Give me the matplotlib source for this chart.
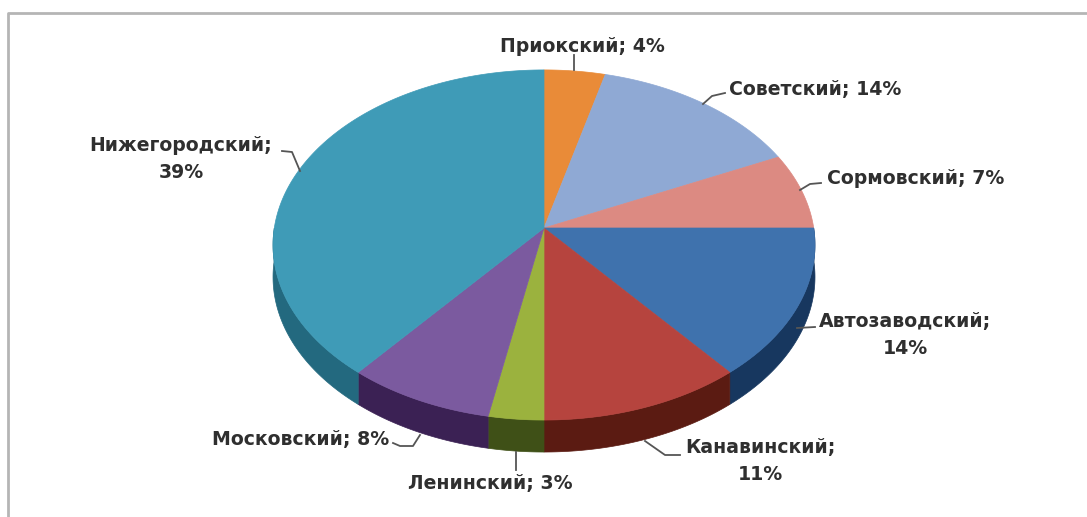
import numpy as np
import matplotlib
matplotlib.use("Agg")
import matplotlib.pyplot as plt
from matplotlib.patches import Polygon

# slices clockwise from the top of the pie
districts = ["Приокский", "Советский", "Сормовский", "Автозаводский",
             "Канавинский", "Ленинский", "Московский", "Нижегородский"]
shares = [4, 14, 7, 14, 11, 3, 8, 39]
top_colors = ["#e98b38", "#8fa9d4", "#dc8a82", "#3f72ad",
              "#b6443e", "#9bb23e", "#7b5a9f", "#3f9bb7"]
side_colors = ["#8a4f1c", "#4e6288", "#85433e", "#17375f",
               "#5b1b12", "#3f5017", "#3b2154", "#23697f"]

# label text with line break, centre of the text
label_text = ["Приокский; 4%", "Советский; 14%", "Сормовский; 7%", "Автозаводский;\n14%",
              "Канавинский;\n11%", "Ленинский; 3%", "Московский; 8%", "Нижегородский;\n39%"]
label_pos = [(582, 46), (815, 90), (916, 178), (905, 335),
             (760, 461), (490, 483), (301, 440), (181, 159)]
leaders = [[(574, 55), (574, 70)],
           [(703, 104), (712, 96), (725, 93)],
           [(800, 190), (810, 184), (821, 183)],
           [(797, 328), (815, 327)],
           [(645, 441), (665, 455), (680, 455)],
           [(516, 452), (516, 470)],
           [(393, 443), (400, 446), (413, 446), (420, 435)],
           [(282, 151), (292, 152), (300, 171)]]

# apex of the pie in pixels, radii, thickness, perspective
cx, cy = 544, 228
sx, sy = 269.7, 173.4
depth = 32
k = 0.097


def rim(t):
    # perspective view of a circle, t clockwise from the top
    w = 1 + k * np.cos(t)
    return cx + sx * np.sin(t) / w, cy - sy * np.cos(t) / w


fig = plt.figure(figsize=(10.87, 5.17), dpi=100)
ax = fig.add_axes([0, 0, 1, 1])
ax.set_xlim(0, 1087)
ax.set_ylim(517, 0)
ax.axis("off")

# grey frame of the screenshot
ax.plot([8, 8, 1087], [517, 13, 13], color="#b5b5b5", lw=2, solid_capstyle="butt")

edges = np.cumsum([0] + shares) / sum(shares) * 2 * np.pi

for i in range(len(shares)):
    a = max(edges[i], np.pi / 2)
    b = min(edges[i + 1], 3 * np.pi / 2)
    if b > a:
        t = np.linspace(a, b, 80)
        x, y = rim(t)
        pts = np.column_stack([np.r_[x, x[::-1]], np.r_[y, y[::-1] + depth]])
        ax.add_patch(Polygon(pts, closed=True, fc=side_colors[i], ec=side_colors[i], lw=0.5))

for i in range(len(shares)):
    t = np.linspace(edges[i], edges[i + 1], 120)
    x, y = rim(t)
    pts = np.column_stack([np.r_[cx, x], np.r_[cy, y]])
    ax.add_patch(Polygon(pts, closed=True, fc=top_colors[i], ec=top_colors[i], lw=0.5))

for line in leaders:
    xs, ys = zip(*line)
    ax.plot(xs, ys, color="#555555", lw=1.3)

for txt, (x, y) in zip(label_text, label_pos):
    ax.text(x, y, txt, ha="center", va="center", fontsize=13.6, fontweight="bold",
            color="#2f2f2f", family="DejaVu Sans", linespacing=1.5)

fig.savefig("out.png", dpi=100)
